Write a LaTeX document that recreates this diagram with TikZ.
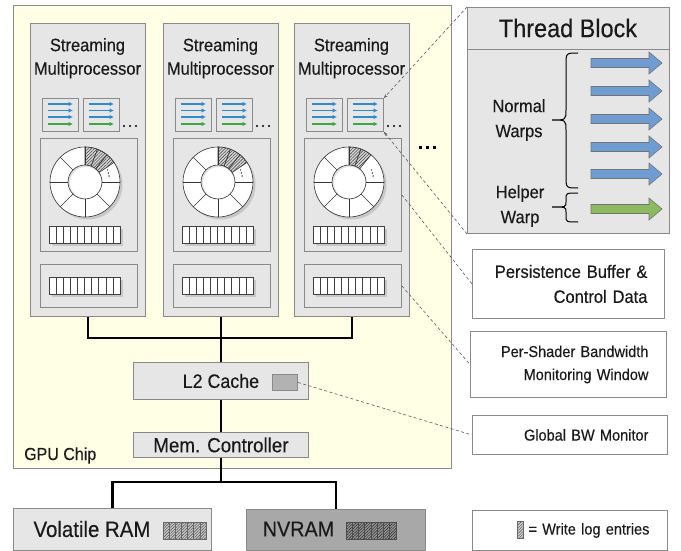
\documentclass[tikz,border=0pt]{standalone}
\usepackage{fontspec}
\setmainfont{Liberation Sans}[FakeStretch=0.92,FakeBold=0.3]
\usetikzlibrary{patterns.meta,arrows.meta}
\definecolor{chipfill}{HTML}{FFFFE6}
\definecolor{boxfill}{HTML}{E6E6E6}
\definecolor{edgegray}{HTML}{8A8A8A}
\definecolor{nvfill}{HTML}{A8A8A8}
\definecolor{smallblue}{HTML}{2F8AD0}
\definecolor{smallgreen}{HTML}{3AA843}
\definecolor{bigblue}{HTML}{6F9DD3}
\definecolor{biggreen}{HTML}{8CBA5E}
\definecolor{txt}{HTML}{1A1A1A}
\newcommand\cellbar[2]{%
  \fill[black!22] (#1+2.5,#2+2.5) rectangle ++(71,17);
  \draw[fill=white, draw=black!75, line width=0.6pt] (#1,#2) rectangle ++(71,17);
  \foreach \k in {1,...,9} \draw[black!75, line width=0.6pt] (#1+\k*7.1,#2) -- ++(0,17);
}
\tikzset{
  box/.style={draw=edgegray, fill=boxfill, line width=0.9pt, inner sep=0pt, anchor=north west},
  whitebox/.style={draw=edgegray, fill=white, line width=0.9pt, anchor=north west},
  conn/.style={draw=black!65, line width=0.6pt, dash pattern=on 3pt off 2.5pt},
  bus/.style={draw=black, line width=2.6pt, line join=miter},
  thinbus/.style={draw=black, line width=1.6pt, line join=miter},
  hatch/.style={draw=black!60, line width=0.6pt, anchor=north west, inner sep=0pt,
    preaction={fill=#1}, pattern={Lines[angle=45,distance=2pt,line width=0.6pt]}, pattern color=black!65},
  hatchcell/.style={draw=black!80, line width=0.6pt, preaction={fill=black!15},
    pattern={Lines[angle=45,distance=2.2pt,line width=0.6pt]}, pattern color=black!70},
}
\begin{document}
\begin{tikzpicture}[x=1pt,y=-1pt, every node/.style={text=txt}]
\useasboundingbox (0,0) rectangle (681,551);
% GPU chip
\node[box, fill=chipfill, minimum width=438pt, minimum height=463pt] (chip) at (13,5) {};
\node[anchor=base west, inner sep=0pt, font=\fontsize{17.4}{19}\selectfont] (chiplbl) at (24,460) {GPU Chip};
% SMs
\foreach \i/\sx/\hs in {1/30/{90/69,69/51,51/34},2/163/{90/69,69/51,51/34},3/294/{90/70,70/51}}{
  \node[box, minimum width=115pt, minimum height=293pt] (sm\i) at (\sx,23) {};
  \node[anchor=north, align=center, inner sep=0pt, font=\fontsize{17.9}{23.5}\selectfont] (smt\i) at (\sx+57.5,38) {Streaming\\Multiprocessor};
  \node[box, minimum width=36pt, minimum height=33pt] (wa\i) at (\sx+12,98) {};
  \node[box, minimum width=36pt, minimum height=33pt] (wb\i) at (\sx+53,98) {};
  \foreach \w in {a,b}{
    \foreach \dy/\c in {6/smallblue,12.5/smallblue,19/smallblue,26/smallgreen}{
      \draw[\c, line width=1.3pt, -{Latex[length=4.5pt,width=4.5pt]}] ([xshift=6pt,yshift=-\dy pt]w\w\i.north west) -- ++(25,0);
    }
  }
  \foreach \d in {0,6,12} \fill[black] (\sx+94+\d,126) circle (1.1);
  \node[box, minimum width=97pt, minimum height=113pt] (rb\i) at (\sx+10,138) {};
  \begin{scope}[shift={(\sx+55,182)}, yscale=-1]
    \fill[black!22] (2.5,-2.5) circle (35);
    \draw[fill=white, draw=black!80, line width=0.6pt] (0,0) circle (35);
    \foreach \a/\b in \hs {
      \draw[hatchcell] (\a:17) arc[start angle=\a, end angle=\b, radius=17] -- (\b:35) arc[start angle=\b, end angle=\a, radius=35] -- cycle;
    }
    \foreach \a in {0,90,135,180,225,270,315} \draw[black!80, line width=0.6pt] (\a:17) -- (\a:35);
    \fill[black!12] (0,0) circle (17);
    \fill[white] (0.8,-0.8) circle (15.8);
    \draw[black!80, line width=0.6pt] (0,0) circle (17);
    \foreach \t in {0,1,2} \fill[black] (22.5+\t*0.8,12-\t*3) circle (0.7);
  \end{scope}
  \cellbar{\sx+19}{226}
  \node[box, minimum width=97pt, minimum height=43pt] (lb\i) at (\sx+10,264) {};
  \cellbar{\sx+19}{277}
}
\foreach \d in {0,7,14} \fill[black] (419+\d,146.5) rectangle ++(3,3);
% L2 and memory controller
\node[box, minimum width=175pt, minimum height=37pt, font=\fontsize{19.4}{21}\selectfont] (l2) at (133,362) {L2 Cache};
\node[box, fill=black!30, minimum width=25pt, minimum height=16pt] (l2m) at (272,374) {};
\node[box, minimum width=175pt, minimum height=25pt, font=\fontsize{20.4}{22}\selectfont] (mc) at (133,432) {Mem. Controller};
% memories
\node[box, minimum width=198pt, minimum height=42pt] (vram) at (13,508) {};
\node[font=\fontsize{22.2}{24}\selectfont, inner sep=0pt] (vramt) at (92,529) {Volatile RAM};
\node[hatch=black!20, minimum width=43pt, minimum height=17pt] (vh) at (163,522) {};
\foreach \k in {1,...,6} \draw[black!60, line width=0.6pt] ([xshift=\k*6.14pt]vh.north west) -- ([xshift=\k*6.14pt]vh.south west);
\node[box, fill=nvfill, minimum width=179pt, minimum height=41pt] (nvram) at (246,509) {};
\node[font=\fontsize{21.5}{24}\selectfont, inner sep=0pt] (nvramt) at (298.5,529) {NVRAM};
\node[hatch=black!40, draw=black!70, minimum width=50pt, minimum height=17pt, pattern color=black!80] (nh) at (346,522) {};
\foreach \k in {1,...,7} \draw[black!70, line width=0.6pt] ([xshift=\k*6.25pt]nh.north west) -- ([xshift=\k*6.25pt]nh.south west);
% buses
\coordinate (busy) at (0,338);
\coordinate (memy) at (0,482);
\draw[bus] (sm1.south) -- (sm1.south |- busy) -- (sm3.south |- busy) -- (sm3.south);
\draw[bus] (sm2.south) -- (l2.north);
\draw[bus] (l2.south) -- (mc.north);
\draw[thinbus] (mc.south |- memy) -- (nvram.north |- memy) -- (nvram.north);
\draw[bus] (mc.south) -- (mc.south |- memy) -- (vram.north |- memy) -- (vram.north);
% thread block
\node[box, minimum width=202pt, minimum height=226pt] (tb) at (467,7) {};
\draw[edgegray, line width=0.9pt] ([yshift=-42pt]tb.north west) -- ([yshift=-42pt]tb.north east);
\node[font=\fontsize{25.5}{28}\selectfont] (tbt) at (568,28) {Thread Block};
\foreach \yy/\c in {63/bigblue,91/bigblue,119/bigblue,147/bigblue,174/bigblue,209/biggreen}
  \draw[fill=\c, draw=black!55, line width=0.6pt] (591,\yy-4.5) -- (649,\yy-4.5) -- (649,\yy-11) -- (662,\yy) -- (649,\yy+11) -- (649,\yy+4.5) -- (591,\yy+4.5) -- cycle;
\draw[black, line width=1pt] (578,53) .. controls (566,53) .. (566,65) -- (566,110) .. controls (566,120) .. (552,120) .. controls (566,120) .. (566,130) -- (566,176) .. controls (566,188) .. (578,188);
\draw[black, line width=1pt] (578,193) .. controls (566,193) .. (566,199) -- (566,202) .. controls (566,207) .. (552,207) .. controls (566,207) .. (566,212) -- (566,216) .. controls (566,222) .. (578,222);
\node[align=center, font=\fontsize{17.9}{25}\selectfont] (nw) at (519,120) {Normal\\Warps};
\node[align=center, font=\fontsize{17.9}{25}\selectfont] (hw) at (520,206) {Helper\\Warp};
% right boxes
\node[whitebox, minimum width=192pt, minimum height=69pt, inner xsep=17pt, text width=158pt, align=right, font=\fontsize{17.9}{25}\selectfont] (pb) at (472,249) {Persistence Buffer \&\\Control Data};
\node[whitebox, minimum width=196pt, minimum height=66pt, inner xsep=18pt, text width=160pt, align=right, font=\fontsize{15.8}{23}\selectfont] (ps) at (470,331) {Per-Shader Bandwidth\\Monitoring Window};
\node[whitebox, minimum width=195pt, minimum height=39pt, inner xsep=19pt, text width=157pt, align=right, font=\fontsize{15.8}{18}\selectfont] (gbw) at (472,415) {Global BW Monitor};
\node[whitebox, minimum width=195pt, minimum height=40pt, inner xsep=18pt, text width=159pt, align=right, font=\fontsize{15.8}{18}\selectfont] (leg) at (472,510) {= Write log entries};
\node[hatch=black!15, minimum width=6pt, minimum height=17pt] (legh) at (517,521) {};
% dashed connectors
\draw[conn, -{Stealth[length=4pt,width=3pt]}] (tb.north west) -- (wb3.north east);
\draw[conn, -{Stealth[length=4pt,width=3pt]}] (tb.south west) -- (wb3.south east);
\draw[conn] (rb3.east) -- (pb.west);
\draw[conn] (lb3.east) -- (ps.west);
\draw[conn] (l2m.east) -- (gbw.west);
\end{tikzpicture}
\end{document}
